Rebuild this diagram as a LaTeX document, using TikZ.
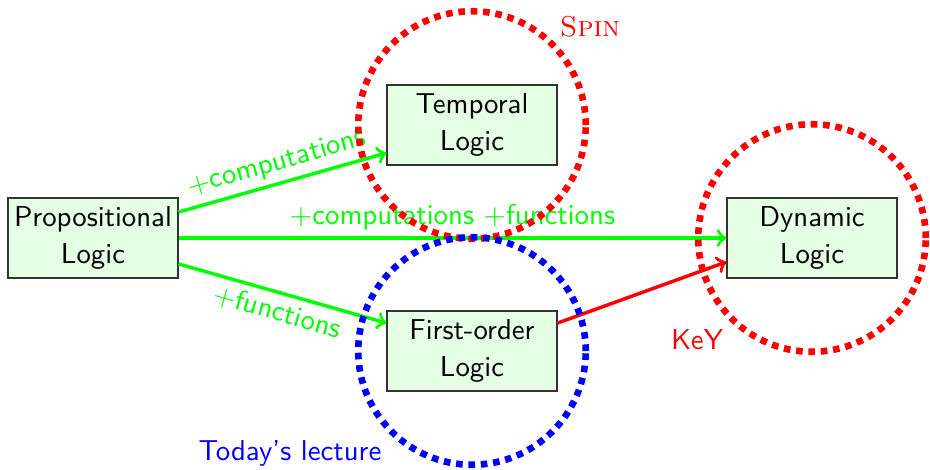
\documentclass[tikz,border=0pt]{standalone}
\begin{document}
\begin{tikzpicture}[x=0.3472pt,y=-0.3472pt, font=\sffamily,
  box/.style={draw=black!80, fill=green!10, align=center, minimum width=59pt, minimum height=27.8pt, inner sep=2pt},
  ring/.style={circle, dotted, line width=2.3pt, minimum size=79pt},
  edge/.style={->, very thick, green},
  lab/.style={green, inner sep=2pt}]
\useasboundingbox (0,0) rectangle (930,469);
\node[box] (prop) at (93,238) {Propositional\\[0.8pt]Logic};
\node[box] (temp) at (472,125) {Temporal\\[0.8pt]Logic};
\node[box] (fo) at (472,351) {First-order\\[0.8pt]Logic};
\node[box] (dyn) at (812,238) {Dynamic\\[0.8pt]Logic};
\draw[edge] ([yshift=9pt]prop.east) -- node[midway,above,sloped,lab] (l1) {$+$computations} ([yshift=-9.7pt]temp.west);
\draw[edge] (prop.east) -- node[midway,above,lab] (l2) {$+$computations $+$functions} (dyn.west);
\draw[edge] ([yshift=-9pt]prop.east) -- node[midway,below,sloped,lab] (l3) {$+$functions} ([yshift=9.7pt]fo.west);
\draw[->, very thick, red] ([yshift=9.7pt]fo.east) -- ([yshift=-8.3pt]dyn.west);
\node[ring, draw=red] (ringT) at (temp) {};
\node[ring, draw=red] (ringD) at (dyn) {};
\node[ring, draw=blue] (ringF) at (fo) {};
\node[red] (spin) at (590,27) {\rmfamily\textsc{Spin}};
\node[red] (key) at (697,340) {KeY};
\node[blue] (today) at (290,453) {Today's lecture};
\end{tikzpicture}
\end{document}
